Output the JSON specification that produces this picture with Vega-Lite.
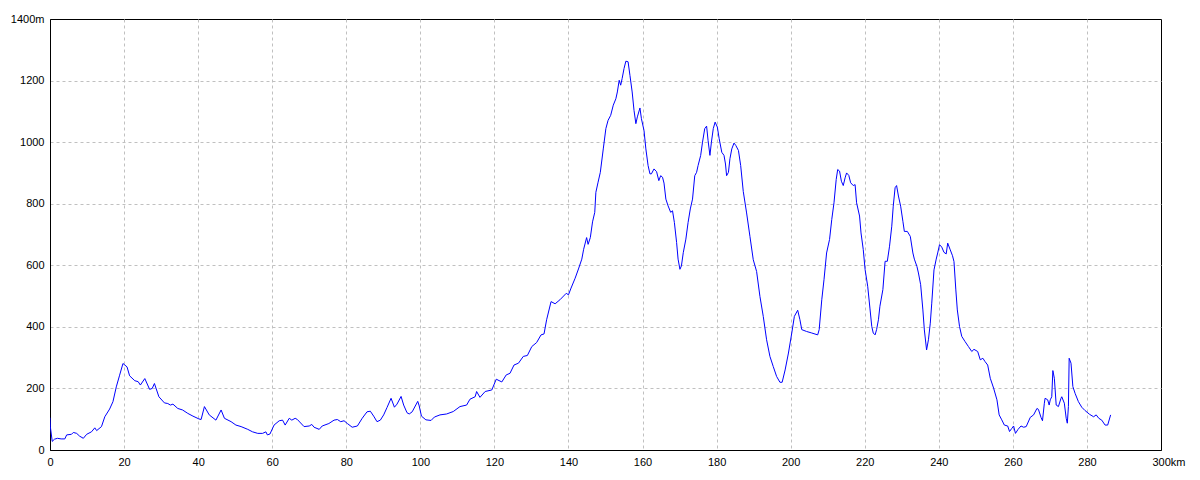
{
  "$schema": "https://vega.github.io/schema/vega-lite/v6.json",
  "width": 1111,
  "height": 431,
  "autosize": {"type": "none"},
  "padding": {"left": 50, "top": 19, "right": 39, "bottom": 30},
  "background": "white",
  "config": {
    "view": {"stroke": "black", "strokeWidth": 1},
    "axis": {
      "labelFont": "Liberation Sans",
      "labelFontSize": 11,
      "labelColor": "black",
      "domainColor": "black",
      "domainWidth": 1,
      "ticks": false,
      "tickSize": 0,
      "grid": true,
      "gridColor": "#c0c0c0",
      "gridDash": [3, 3],
      "gridWidth": 1,
      "title": null,
      "labelFlush": false,
      "labelOverlap": false
    }
  },
  "data": {"values": [
    {"km":0,"m":105},{"km":0.1,"m":75},{"km":0.6,"m":28},{"km":1.2,"m":35},{"km":2,"m":38},{"km":3,"m":36},{"km":4,"m":36},{"km":4.5,"m":49},{"km":5.8,"m":51},{"km":6.3,"m":57},{"km":7.2,"m":54},{"km":8,"m":45},{"km":9,"m":38},{"km":9.9,"m":51},{"km":11.2,"m":59},{"km":12.1,"m":72},{"km":12.6,"m":63},{"km":13.9,"m":76},{"km":14.8,"m":108},{"km":16.1,"m":133},{"km":17,"m":157},{"km":17.9,"m":205},{"km":18.8,"m":243},{"km":19.7,"m":281},{"km":20.8,"m":270},{"km":21.5,"m":241},{"km":22.9,"m":225},{"km":23.8,"m":222},{"km":24.4,"m":211},{"km":25.6,"m":232},{"km":26.9,"m":197},{"km":27.6,"m":200},{"km":28.2,"m":216},{"km":29.4,"m":173},{"km":30.9,"m":153},{"km":31.8,"m":151},{"km":32.5,"m":146},{"km":33.2,"m":149},{"km":34.5,"m":135},{"km":35.8,"m":130},{"km":37.2,"m":119},{"km":38.6,"m":110},{"km":40.2,"m":101},{"km":40.8,"m":99},{"km":41.7,"m":141},{"km":43,"m":114},{"km":44.8,"m":97},{"km":46.2,"m":130},{"km":47.1,"m":103},{"km":48.9,"m":92},{"km":50.2,"m":81},{"km":51.6,"m":76},{"km":53.4,"m":67},{"km":54.7,"m":59},{"km":56.1,"m":54},{"km":57.4,"m":54},{"km":58.3,"m":59},{"km":58.7,"m":49},{"km":59.4,"m":52},{"km":60.5,"m":81},{"km":61.9,"m":95},{"km":62.8,"m":97},{"km":63.5,"m":81},{"km":64.6,"m":103},{"km":65.3,"m":97},{"km":66.2,"m":103},{"km":66.8,"m":99},{"km":68.6,"m":76},{"km":70,"m":78},{"km":70.7,"m":83},{"km":71.3,"m":74},{"km":72.7,"m":67},{"km":73.5,"m":78},{"km":75.3,"m":86},{"km":76.7,"m":97},{"km":77.6,"m":99},{"km":78.5,"m":92},{"km":79.4,"m":95},{"km":80.3,"m":86},{"km":81.6,"m":74},{"km":83,"m":78},{"km":84.3,"m":103},{"km":85.6,"m":124},{"km":86.5,"m":126},{"km":87.4,"m":110},{"km":88.3,"m":92},{"km":89.2,"m":97},{"km":90.1,"m":114},{"km":91,"m":138},{"km":92.1,"m":168},{"km":93,"m":139},{"km":93.7,"m":149},{"km":94.8,"m":174},{"km":95.5,"m":146},{"km":96.4,"m":121},{"km":97,"m":117},{"km":97.8,"m":124},{"km":99.3,"m":158},{"km":99.7,"m":143},{"km":100.3,"m":110},{"km":101.5,"m":98},{"km":102.9,"m":96},{"km":103.8,"m":107},{"km":105.3,"m":114},{"km":107.1,"m":117},{"km":108.9,"m":125},{"km":110.7,"m":141},{"km":112.5,"m":146},{"km":113.4,"m":165},{"km":114.8,"m":173},{"km":115.2,"m":190},{"km":116.1,"m":171},{"km":117.5,"m":190},{"km":119.3,"m":195},{"km":120.5,"m":230},{"km":122,"m":221},{"km":123.2,"m":244},{"km":124.2,"m":249},{"km":125.3,"m":276},{"km":126.5,"m":282},{"km":127.8,"m":304},{"km":128.9,"m":307},{"km":130.1,"m":336},{"km":131.4,"m":349},{"km":132.6,"m":374},{"km":133.4,"m":377},{"km":134.1,"m":423},{"km":135.3,"m":482},{"km":136.4,"m":475},{"km":137.7,"m":488},{"km":139.4,"m":509},{"km":140,"m":504},{"km":140.7,"m":526},{"km":141.8,"m":558},{"km":142.7,"m":588},{"km":143.6,"m":620},{"km":144.1,"m":652},{"km":144.9,"m":690},{"km":145.3,"m":668},{"km":145.9,"m":690},{"km":146.5,"m":741},{"km":147.1,"m":772},{"km":147.4,"m":837},{"km":148,"m":870},{"km":148.6,"m":902},{"km":149.4,"m":978},{"km":150.1,"m":1044},{"km":150.7,"m":1071},{"km":151.4,"m":1087},{"km":152.1,"m":1120},{"km":152.8,"m":1141},{"km":153.2,"m":1163},{"km":153.7,"m":1201},{"km":154.1,"m":1185},{"km":154.5,"m":1207},{"km":155,"m":1239},{"km":155.5,"m":1263},{"km":156.1,"m":1261},{"km":156.6,"m":1217},{"km":157.2,"m":1163},{"km":157.7,"m":1103},{"km":158.2,"m":1060},{"km":158.6,"m":1082},{"km":159.3,"m":1111},{"km":159.7,"m":1076},{"km":160.4,"m":1038},{"km":160.9,"m":978},{"km":161.5,"m":924},{"km":162,"m":897},{"km":162.4,"m":897},{"km":163.1,"m":913},{"km":163.8,"m":904},{"km":164.4,"m":875},{"km":164.9,"m":891},{"km":165.4,"m":886},{"km":165.8,"m":867},{"km":166.3,"m":815},{"km":166.9,"m":793},{"km":167.6,"m":772},{"km":168.1,"m":777},{"km":168.6,"m":739},{"km":169.2,"m":674},{"km":169.6,"m":620},{"km":170.1,"m":587},{"km":170.5,"m":598},{"km":171,"m":641},{"km":171.7,"m":685},{"km":172.3,"m":739},{"km":172.9,"m":783},{"km":173.5,"m":815},{"km":174.1,"m":891},{"km":174.6,"m":902},{"km":175,"m":924},{"km":175.7,"m":957},{"km":176.2,"m":1000},{"km":176.8,"m":1044},{"km":177.3,"m":1052},{"km":177.7,"m":1005},{"km":178.2,"m":957},{"km":178.6,"m":1000},{"km":179.1,"m":1044},{"km":179.6,"m":1065},{"km":180.2,"m":1049},{"km":180.7,"m":1011},{"km":181.4,"m":967},{"km":182,"m":957},{"km":182.4,"m":929},{"km":182.7,"m":891},{"km":183.2,"m":902},{"km":183.6,"m":946},{"km":184.1,"m":978},{"km":184.7,"m":997},{"km":185.2,"m":989},{"km":185.9,"m":973},{"km":186.5,"m":924},{"km":187.2,"m":840},{"km":188.1,"m":770},{"km":189,"m":694},{"km":189.9,"m":618},{"km":190.8,"m":580},{"km":191.7,"m":499},{"km":192.6,"m":434},{"km":193.5,"m":358},{"km":194.4,"m":304},{"km":195.3,"m":271},{"km":196.2,"m":239},{"km":197.1,"m":220},{"km":197.7,"m":220},{"km":198.5,"m":260},{"km":199.4,"m":315},{"km":200.3,"m":380},{"km":201,"m":434},{"km":201.9,"m":454},{"km":202.5,"m":423},{"km":203,"m":391},{"km":204.3,"m":385},{"km":205.7,"m":380},{"km":207.3,"m":374},{"km":207.7,"m":391},{"km":208.4,"m":488},{"km":209,"m":553},{"km":209.7,"m":640},{"km":210.5,"m":684},{"km":211.1,"m":749},{"km":211.7,"m":803},{"km":212.3,"m":879},{"km":212.7,"m":911},{"km":213.2,"m":906},{"km":213.7,"m":873},{"km":214.2,"m":859},{"km":214.7,"m":884},{"km":215.1,"m":900},{"km":215.7,"m":892},{"km":216.2,"m":868},{"km":216.9,"m":859},{"km":217.4,"m":862},{"km":217.8,"m":803},{"km":218.6,"m":760},{"km":219,"m":705},{"km":219.6,"m":651},{"km":220.1,"m":586},{"km":220.8,"m":532},{"km":221.4,"m":461},{"km":221.9,"m":401},{"km":222.3,"m":380},{"km":222.8,"m":374},{"km":223.2,"m":391},{"km":223.7,"m":423},{"km":224.1,"m":467},{"km":224.9,"m":521},{"km":225.5,"m":613},{"km":226.1,"m":613},{"km":226.7,"m":662},{"km":227.3,"m":727},{"km":227.7,"m":792},{"km":228.2,"m":852},{"km":228.6,"m":859},{"km":229.1,"m":825},{"km":229.7,"m":792},{"km":230.3,"m":743},{"km":230.7,"m":710},{"km":231.5,"m":710},{"km":232.3,"m":694},{"km":233,"m":640},{"km":233.4,"m":620},{"km":234.1,"m":596},{"km":234.5,"m":575},{"km":235.1,"m":537},{"km":235.7,"m":455},{"km":236.1,"m":390},{"km":236.7,"m":325},{"km":237.2,"m":358},{"km":237.7,"m":412},{"km":238.1,"m":477},{"km":238.7,"m":585},{"km":239.3,"m":620},{"km":239.7,"m":640},{"km":240.2,"m":667},{"km":240.8,"m":659},{"km":241.4,"m":642},{"km":242,"m":637},{"km":242.4,"m":672},{"km":243.1,"m":650},{"km":243.7,"m":631},{"km":244.1,"m":612},{"km":244.6,"m":520},{"km":245,"m":455},{"km":245.6,"m":401},{"km":246.2,"m":369},{"km":247.1,"m":352},{"km":248,"m":336},{"km":248.9,"m":320},{"km":249.5,"m":327},{"km":250.5,"m":320},{"km":251.2,"m":293},{"km":251.9,"m":298},{"km":252.5,"m":287},{"km":253.2,"m":276},{"km":253.9,"m":233},{"km":254.8,"m":201},{"km":255.7,"m":163},{"km":256.3,"m":114},{"km":257,"m":98},{"km":257.7,"m":81},{"km":258.6,"m":78},{"km":259.1,"m":60},{"km":259.7,"m":70},{"km":260.2,"m":78},{"km":260.7,"m":54},{"km":261.4,"m":67},{"km":262.2,"m":78},{"km":262.9,"m":74},{"km":263.6,"m":76},{"km":264.7,"m":106},{"km":265.6,"m":114},{"km":266.5,"m":135},{"km":266.9,"m":132},{"km":267.6,"m":106},{"km":268,"m":95},{"km":268.5,"m":152},{"km":268.7,"m":168},{"km":269.4,"m":163},{"km":269.8,"m":146},{"km":270.1,"m":163},{"km":270.5,"m":173},{"km":270.8,"m":258},{"km":271.2,"m":233},{"km":271.7,"m":146},{"km":272.3,"m":141},{"km":273,"m":168},{"km":273.2,"m":173},{"km":273.9,"m":152},{"km":274.4,"m":103},{"km":274.7,"m":87},{"km":275,"m":141},{"km":275.2,"m":298},{"km":275.7,"m":282},{"km":276.2,"m":206},{"km":276.8,"m":184},{"km":277.7,"m":157},{"km":278.6,"m":139},{"km":279.5,"m":128},{"km":280.7,"m":116},{"km":281.8,"m":108},{"km":282.5,"m":114},{"km":283.2,"m":103},{"km":284,"m":97},{"km":284.9,"m":81},{"km":285.6,"m":81},{"km":286.4,"m":114}
  ]},
  "mark": {"type": "line", "color": "#0000ff", "strokeWidth": 1, "clip": true},
  "encoding": {
    "x": {
      "field": "km", "type": "quantitative",
      "scale": {"domain": [0, 300], "nice": false, "zero": false},
      "axis": {
        "values": [0, 20, 40, 60, 80, 100, 120, 140, 160, 180, 200, 220, 240, 260, 280, 300],
        "format": "d",
        "labelExpr": "datum.value == 300 ? '300km' : datum.label",
        "labelAngle": 0,
        "labelPadding": 6,
        "gridOpacity": {"condition": {"test": "datum.value == 300 || datum.value == 0", "value": 0}, "value": 1},
        "labelAlign": {"condition": {"test": "datum.value == 300", "value": "left"}, "value": "center"},
        "labelOffset": {"condition": {"test": "datum.value == 300", "value": -9}, "value": 0}
      }
    },
    "y": {
      "field": "m", "type": "quantitative",
      "scale": {"domain": [0, 1400], "nice": false},
      "axis": {
        "values": [0, 200, 400, 600, 800, 1000, 1200, 1400],
        "format": "d",
        "labelExpr": "datum.value == 1400 ? '1400m' : datum.label",
        "labelPadding": 6,
        "gridOpacity": {"condition": {"test": "datum.value == 1400 || datum.value == 0", "value": 0}, "value": 1}
      }
    }
  }
}
